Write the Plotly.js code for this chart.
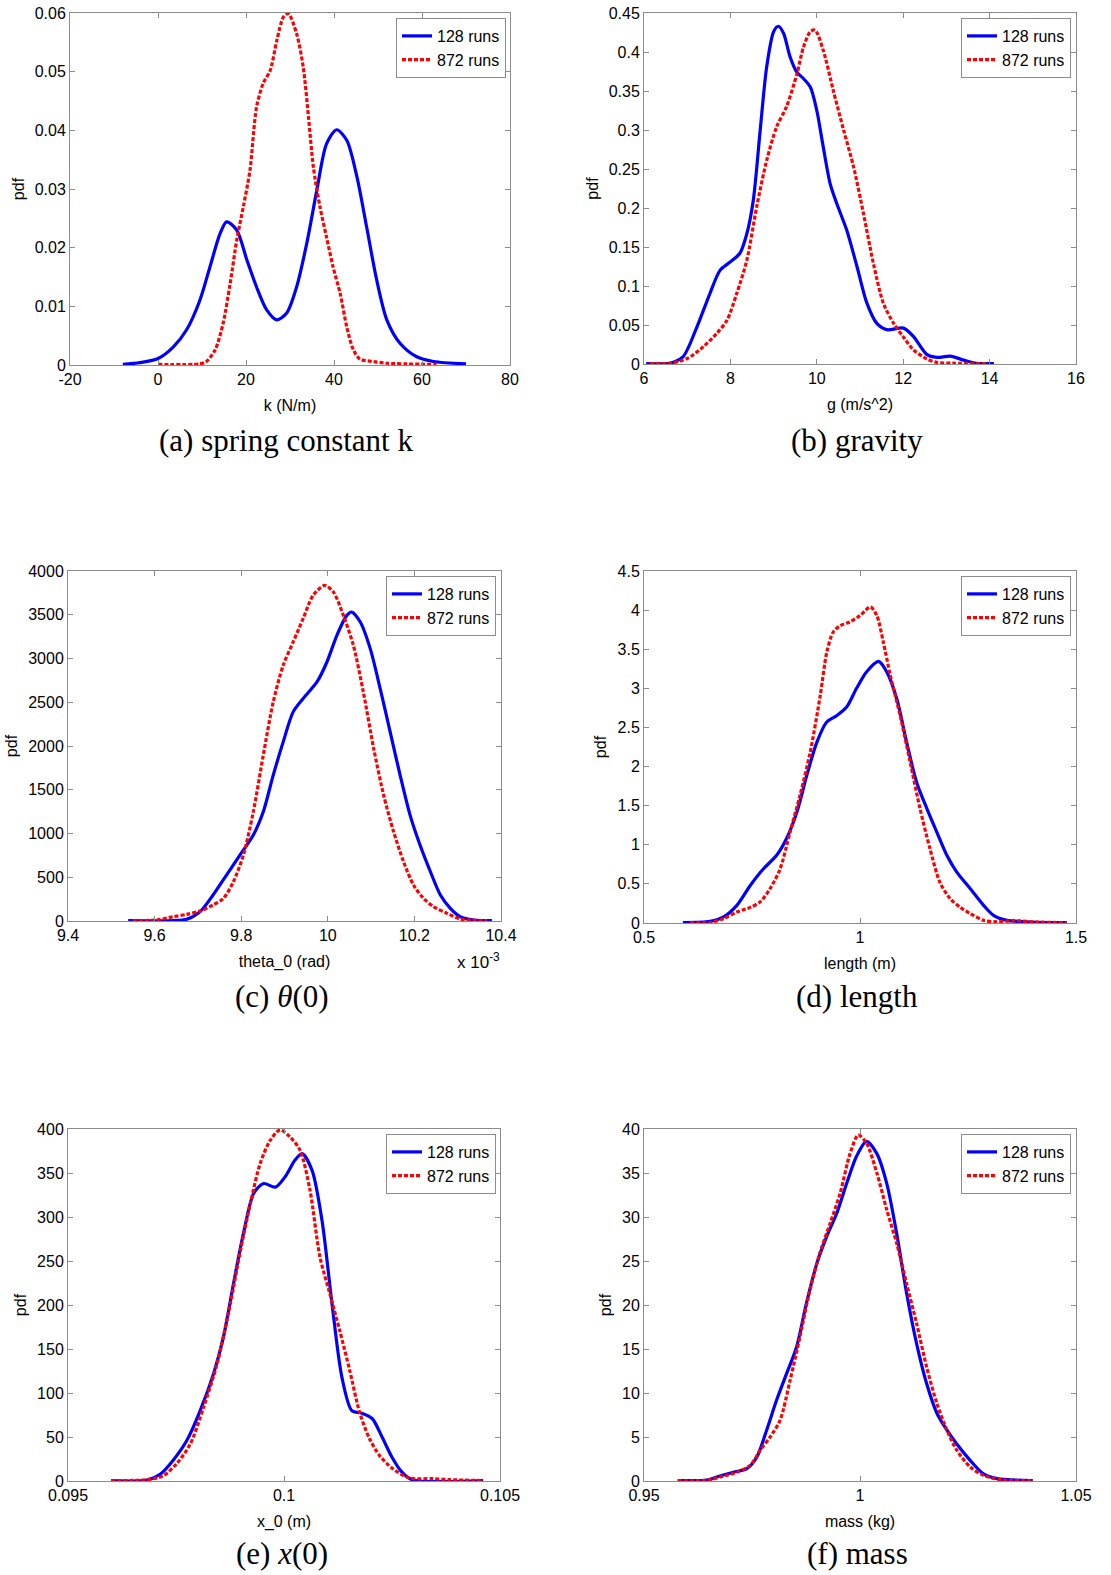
<!DOCTYPE html>
<html><head><meta charset="utf-8">
<script src="https://cdn.plot.ly/plotly-3.0.1.min.js"></script>
<style>html,body{margin:0;padding:0;background:#fff}</style>
</head><body><div id="chart" style="width:1111px;height:1575px"></div>
<script>
// ---------- data ----------
const seriesNames = ['128 runs', '872 runs'];
const captions = ['(a) spring constant k', '(b) gravity', '(c) <i>θ</i>(0)', '(d) length', '(e) <i>x</i>(0)', '(f) mass'];
const xTitles = ['k (N/m)', 'g (m/s^2)', 'theta_0 (rad)', 'length (m)', 'x_0 (m)', 'mass (kg)'];
const yTitle = 'pdf';
const thetaScaleLabel = 'x 10<sup>-3</sup>';
const kTickVals = [-20, 0, 20, 40, 60, 80];
const kTickLabels = ['-20', '0', '20', '40', '60', '80'];

// (a) spring constant
const kX128 = [-8, -4.1, 0, 3.5, 6.5, 9.5, 11.8, 14.1, 15.6, 17.9, 20.2, 22.4, 24.7, 27, 29.2, 31.5, 33.8, 36.1, 38.3, 40.6, 42.9, 45.2, 47.4, 49.7, 52, 55, 58.8, 62.6, 70];
const kY128 = [0.0001, 0.0004, 0.0011, 0.0031, 0.006, 0.011, 0.0167, 0.0224, 0.0244, 0.023, 0.0179, 0.0133, 0.0094, 0.0077, 0.0088, 0.0133, 0.0207, 0.0298, 0.0377, 0.0401, 0.0383, 0.0321, 0.0236, 0.0145, 0.0077, 0.0037, 0.0014, 0.0006, 0.0002];
const kX872 = [0, 9.5, 11, 13, 14.8, 16.4, 17.9, 19.4, 20.9, 22.4, 23.9, 25.5, 27, 28.5, 29.6, 31.5, 33, 34.2, 35.3, 36.8, 38.3, 39.8, 41.4, 42.9, 44.4, 45.9, 48.9, 52, 63.3];
const kY872 = [0.0001, 0.0002, 0.0006, 0.0026, 0.0071, 0.0139, 0.0213, 0.027, 0.0332, 0.044, 0.048, 0.0502, 0.0553, 0.0593, 0.0599, 0.0565, 0.0508, 0.0423, 0.0338, 0.027, 0.0218, 0.0167, 0.0122, 0.0065, 0.0026, 0.001, 0.0006, 0.0003, 0.0001];

// (b) gravity
const gX128 = [6.05, 6.6, 6.9, 7.2, 7.53, 7.76, 8.0, 8.22, 8.38, 8.53, 8.69, 8.84, 9.0, 9.11, 9.23, 9.38, 9.54, 9.69, 9.85, 10.0, 10.15, 10.31, 10.46, 10.69, 10.93, 11.16, 11.39, 11.62, 12.01, 12.24, 12.55, 12.78, 13.09, 13.4, 13.7, 14.1];
const gY128 = [0.0005, 0.001, 0.009, 0.044, 0.091, 0.12, 0.131, 0.142, 0.167, 0.21, 0.30, 0.381, 0.426, 0.433, 0.424, 0.394, 0.374, 0.366, 0.355, 0.325, 0.278, 0.231, 0.206, 0.172, 0.125, 0.078, 0.052, 0.044, 0.046, 0.035, 0.012, 0.0085, 0.01, 0.005, 0.001, 0.0005];
const gX872 = [6.14, 6.6, 7.0, 7.37, 7.68, 7.92, 8.15, 8.38, 8.61, 8.84, 9.07, 9.3, 9.54, 9.69, 9.85, 9.96, 10.15, 10.38, 10.62, 10.85, 11.08, 11.31, 11.54, 11.78, 12.0, 12.24, 12.55, 12.78, 13.17, 13.94];
const gY872 = [0.0005, 0.001, 0.007, 0.022, 0.039, 0.056, 0.091, 0.133, 0.202, 0.261, 0.304, 0.33, 0.372, 0.406, 0.426, 0.428, 0.402, 0.351, 0.30, 0.253, 0.193, 0.129, 0.078, 0.052, 0.035, 0.018, 0.0064, 0.002, 0.001, 0.0005];

// (c) theta(0), x in units of 1e-3 rad
const tX128 = [9.539, 9.643, 9.674, 9.705, 9.735, 9.766, 9.797, 9.828, 9.851, 9.874, 9.897, 9.92, 9.943, 9.975, 9.998, 10.021, 10.044, 10.055, 10.075, 10.098, 10.121, 10.144, 10.167, 10.19, 10.213, 10.237, 10.26, 10.283, 10.306, 10.337, 10.379];
const tY128 = [5, 5, 19, 107, 297, 525, 753, 982, 1248, 1667, 2047, 2390, 2542, 2732, 2960, 3265, 3493, 3531, 3417, 3113, 2656, 2161, 1667, 1210, 868, 563, 297, 145, 49, 11, 5];
const tX872 = [9.55, 9.604, 9.643, 9.674, 9.705, 9.735, 9.759, 9.782, 9.805, 9.828, 9.851, 9.874, 9.897, 9.92, 9.943, 9.966, 9.993, 10.013, 10.036, 10.059, 10.082, 10.106, 10.129, 10.152, 10.175, 10.198, 10.221, 10.244, 10.275, 10.306, 10.368];
const tY872 = [5, 11, 49, 76, 114, 183, 259, 449, 753, 1248, 1895, 2504, 2922, 3189, 3455, 3721, 3835, 3759, 3493, 3151, 2618, 1971, 1438, 1020, 677, 411, 259, 164, 88, 23, 5];

// (d) length
const lX128 = [0.59, 0.653, 0.684, 0.715, 0.746, 0.776, 0.807, 0.83, 0.854, 0.877, 0.9, 0.923, 0.946, 0.969, 0.992, 1.015, 1.043, 1.062, 1.085, 1.108, 1.131, 1.155, 1.178, 1.201, 1.224, 1.255, 1.286, 1.309, 1.34, 1.394, 1.479];
const lY128 = [0.005, 0.02, 0.077, 0.226, 0.48, 0.69, 0.865, 1.08, 1.42, 1.89, 2.31, 2.57, 2.65, 2.76, 3.0, 3.21, 3.345, 3.21, 2.87, 2.31, 1.80, 1.46, 1.16, 0.865, 0.65, 0.44, 0.226, 0.098, 0.034, 0.013, 0.005];
const lX872 = [0.607, 0.653, 0.684, 0.715, 0.746, 0.769, 0.792, 0.815, 0.838, 0.861, 0.885, 0.908, 0.923, 0.938, 0.954, 0.977, 1.0, 1.024, 1.039, 1.054, 1.07, 1.093, 1.116, 1.139, 1.162, 1.185, 1.209, 1.232, 1.255, 1.286, 1.317, 1.356, 1.41, 1.479];
const lY872 = [0.005, 0.006, 0.055, 0.14, 0.2, 0.27, 0.44, 0.69, 1.16, 1.63, 2.19, 2.91, 3.46, 3.72, 3.80, 3.85, 3.93, 4.04, 3.93, 3.59, 3.17, 2.65, 2.06, 1.46, 0.95, 0.52, 0.31, 0.2, 0.12, 0.034, 0.015, 0.03, 0.012, 0.005];

// (e) x(0)
const xX128 = [0.096, 0.09683, 0.09714, 0.09744, 0.09775, 0.09806, 0.09837, 0.0986, 0.09883, 0.09906, 0.0993, 0.09953, 0.0998, 0.10003, 0.10026, 0.10042, 0.10065, 0.10088, 0.10111, 0.10134, 0.10157, 0.1018, 0.10204, 0.10227, 0.1025, 0.10273, 0.10296, 0.10461];
const xY128 = [0.5, 1, 8, 24, 46, 80, 122, 164, 224, 281, 327, 338, 334, 346, 365, 372, 353, 296, 202, 118, 80, 77, 71, 50, 27, 10, 1.5, 0.5];
const xX872 = [0.096, 0.09683, 0.09721, 0.09752, 0.09783, 0.09814, 0.09845, 0.09876, 0.09898, 0.09922, 0.09945, 0.09968, 0.09991, 0.10014, 0.10037, 0.1006, 0.10083, 0.10106, 0.10129, 0.10152, 0.10175, 0.10198, 0.10221, 0.10252, 0.1029, 0.10344, 0.10383, 0.10461];
const xY872 = [0.5, 1.5, 6, 20, 42, 84, 133, 202, 259, 315, 361, 387, 399, 391, 376, 331, 255, 213, 171, 126, 78, 48, 29, 14, 3.4, 2.7, 1.5, 0.5];

// (f) mass
const mX128 = [0.9578, 0.9645, 0.9668, 0.9707, 0.9738, 0.9761, 0.9784, 0.9807, 0.983, 0.9853, 0.9876, 0.99, 0.9923, 0.9946, 0.9969, 0.9992, 1.0015, 1.0039, 1.0062, 1.0085, 1.0108, 1.0131, 1.0154, 1.0178, 1.0201, 1.0224, 1.0255, 1.0286, 1.0317, 1.04];
const mY128 = [0.05, 0.1, 0.45, 1.0, 1.4, 2.7, 5.8, 9.2, 12.2, 15.2, 20.2, 24.7, 27.8, 30.4, 33.8, 36.9, 38.6, 37.2, 33.8, 28.1, 21.3, 15.6, 11.1, 7.7, 5.8, 4.2, 2.35, 0.8, 0.27, 0.05];
const mX872 = [0.9578, 0.9645, 0.9676, 0.9715, 0.9746, 0.9769, 0.9792, 0.9815, 0.9838, 0.9861, 0.9884, 0.9907, 0.9931, 0.9954, 0.9977, 0.9996, 1.0015, 1.0039, 1.0062, 1.0085, 1.0108, 1.0131, 1.0154, 1.0178, 1.0201, 1.0224, 1.0255, 1.0286, 1.0325, 1.04];
const mY872 = [0.05, 0.08, 0.45, 1.0, 1.8, 3.5, 5.0, 6.9, 11.4, 16.4, 21.7, 25.9, 29.3, 32.7, 37.2, 39.3, 38.4, 35.0, 30.8, 27.0, 22.4, 17.9, 13.0, 8.8, 5.8, 3.5, 1.6, 0.65, 0.15, 0.05];

// axis ranges / tick steps
const xRanges = [[-20, 80], [6, 16], [9.4, 10.4], [0.5, 1.5], [0.095, 0.105], [0.95, 1.05]];
const xSteps = [20, 2, 0.2, 0.5, 0.005, 0.05];
const yRanges = [[0, 0.06], [0, 0.45], [0, 4000], [0, 4.5], [0, 400], [0, 40]];
const ySteps = [0.01, 0.05, 500, 0.5, 50, 5];

const curves = [
  [kX128, kY128, kX872, kY872],
  [gX128, gY128, gX872, gY872],
  [tX128, tY128, tX872, tY872],
  [lX128, lY128, lX872, lY872],
  [xX128, xY128, xX872, xY872],
  [mX128, mY128, mX872, mY872]
];

// ---------- layout geometry (pixels in a 1111x1575 page) ----------
const W = 1111, H = 1575;
const boxes = [ // [left, right, top, bottom]
  [70, 510, 13, 365],
  [644, 1076, 13, 364],
  [68, 501, 571, 921],
  [644, 1076, 571, 923],
  [68, 500, 1129, 1481],
  [644, 1076, 1129, 1481]
];
const legendPos = [ // [right, top]
  [506, 18], [1071, 18], [496, 576], [1071, 576], [496, 1134], [1071, 1134]
];
const captionPos = [[286, 440], [857, 440], [282, 996], [857, 996], [282, 1553], [857, 1553]];

const BLUE = '#0000ff', RED = '#ff0000', AXC = '#8c8c8c';
const FONT = 'Liberation Sans, Arial, Helvetica, sans-serif';

const traces = [];
const layout = {
  width: W, height: H, autosize: false,
  margin: {l: 0, r: 0, t: 0, b: 0},
  paper_bgcolor: '#fff', plot_bgcolor: '#fff',
  font: {family: FONT, size: 16, color: '#000'},
  annotations: []
};

curves.forEach((c, i) => {
  const n = i + 1;
  const xa = n === 1 ? 'x' : 'x' + n, ya = n === 1 ? 'y' : 'y' + n;
  const lg = n === 1 ? 'legend' : 'legend' + n;
  traces.push({
    type: 'scatter', mode: 'lines', x: c[0], y: c[1], xaxis: xa, yaxis: ya,
    name: seriesNames[0], legend: lg,
    line: {color: BLUE, width: 3.2, shape: 'spline', smoothing: 0.8}
  });
  traces.push({
    type: 'scatter', mode: 'lines', x: c[2], y: c[3], xaxis: xa, yaxis: ya,
    name: seriesNames[1], legend: lg,
    line: {color: RED, width: 3.2, dash: '4px,2px', shape: 'spline', smoothing: 0.8}
  });
  const b = boxes[i];
  const common = {
    showline: true, linecolor: AXC, linewidth: 1, mirror: 'ticks',
    ticks: 'inside', ticklen: 5, tickcolor: AXC, tickwidth: 1,
    showgrid: false, zeroline: false, tickfont: {family: FONT, size: 16, color: '#000'},
    fixedrange: true
  };
  const xax = Object.assign({}, common, {
    domain: [b[0] / W, b[1] / W], anchor: ya,
    range: xRanges[i], tick0: xRanges[i][0], dtick: xSteps[i],
    title: {text: xTitles[i], font: {family: FONT, size: 16, color: '#000'}, standoff: 12}
  });
  if (i === 0) { xax.tickmode = 'array'; xax.tickvals = kTickVals; xax.ticktext = kTickLabels; }
  layout['xaxis' + (n === 1 ? '' : n)] = xax;
  layout['yaxis' + (n === 1 ? '' : n)] = Object.assign({}, common, {
    domain: [1 - b[3] / H, 1 - b[2] / H], anchor: xa,
    range: yRanges[i], tick0: 0, dtick: ySteps[i],
    title: {text: yTitle, font: {family: FONT, size: 16, color: '#000'}, standoff: 6}
  });
  layout[lg] = {
    x: legendPos[i][0] / W, y: 1 - legendPos[i][1] / H, xanchor: 'right', yanchor: 'top',
    xref: 'paper', yref: 'paper',
    bgcolor: '#fff', bordercolor: AXC, borderwidth: 1,
    font: {family: FONT, size: 16, color: '#000'},
    itemwidth: 30, tracegroupgap: 0, traceorder: 'normal'
  };
  layout.annotations.push({
    xref: 'paper', yref: 'paper', x: captionPos[i][0] / W, y: 1 - captionPos[i][1] / H,
    xanchor: 'center', yanchor: 'middle', showarrow: false, text: captions[i],
    font: {family: 'Liberation Serif, Times New Roman, serif', size: 31, color: '#000'}
  });
});

layout.annotations.push({
  xref: 'paper', yref: 'paper', x: 502 / W, y: 1 - 961 / H, xanchor: 'right', yanchor: 'middle',
  showarrow: false, text: thetaScaleLabel, font: {family: FONT, size: 17, color: '#000'}
});

Plotly.newPlot('chart', traces, layout, {displayModeBar: false, staticPlot: true});
</script></body></html>
